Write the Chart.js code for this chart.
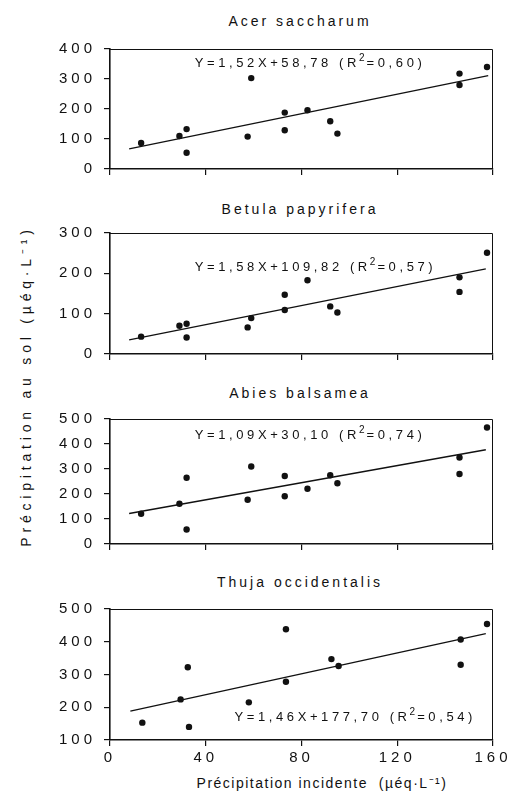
<!DOCTYPE html>
<html>
<head>
<meta charset="utf-8">
<script src="https://cdn.jsdelivr.net/npm/chart.js@4.4.1/dist/chart.umd.min.js"></script>
<style>
  body { margin: 0; background: #fff; }
  #wrap { position: relative; width: 530px; height: 805px; overflow: hidden; font-family: "Liberation Sans", Arial, sans-serif; color: #111; }
  #wrap canvas { position: absolute; left: 0; }
  .panel-title { position: absolute; left: 200px; width: 200px; text-align: center; font-size: 14px; line-height: 14px; letter-spacing: 3px; white-space: nowrap; }
  #yTitle { position: absolute; left: 26px; top: 386px; transform: translate(-50%, -50%) rotate(-90deg); font-size: 14px; line-height: 14px; letter-spacing: 4.8px; white-space: nowrap; }
  #xTitle { position: absolute; left: 172px; width: 300px; top: 776px; text-align: center; font-size: 14px; line-height: 14px; letter-spacing: 1.5px; white-space: nowrap; }
</style>
</head>
<body>
<div id="wrap">
  <div id="yTitle">Précipitation au sol (µéq·L⁻¹)</div>
  <div id="xTitle">Précipitation incidente&nbsp; (µéq·L⁻¹)</div>
</div>
<script>
// values
const species = ["Acer saccharum", "Betula papyrifera", "Abies balsamea", "Thuja occidentalis"];
const equations = [
  "Y=1,52X+58,78 (R²=0,60)",
  "Y=1,58X+109,82 (R²=0,57)",
  "Y=1,09X+30,10 (R²=0,74)",
  "Y=1,46X+177,70 (R²=0,54)"
];
const xTicks = [0, 40, 80, 120, 160];

const precipX = [13, 29, 32, 32, 57.5, 59, 73, 73, 82.5, 92, 95, 146, 146, 157.5];
const acerY = [87, 110, 133, 54, 108, 303, 188, 129, 196, 159, 118, 318, 280, 340];
const betulaY = [43, 70, 75, 41, 66, 89, 147, 109, 183, 118, 103, 190, 154, 251];
const abiesY = [121, 161, 265, 58, 177, 310, 272, 191, 221, 275, 243, 346, 280, 466];
const thujaX = [13.5, 29.5, 32.5, 33, 58, 73.5, 73.5, 92.5, 95.5, 146.5, 146.5, 157.5];
const thujaY = [153, 224, 322, 140, 215, 438, 278, 347, 326, 407, 330, 454];

// regression lines as drawn (end points)
const acerFitX = [8, 158];
const acerFitY = [67, 311];
const betulaFitX = [8, 157];
const betulaFitY = [35, 211];
const abiesFitX = [8, 157];
const abiesFitY = [122, 377];
const thujaFitX = [8.5, 157];
const thujaFitY = [188, 425];

const yTicksAcer = [0, 100, 200, 300, 400];
const yTicksBetula = [0, 100, 200, 300];
const yTicksAbies = [0, 100, 200, 300, 400, 500];
const yTicksThuja = [100, 200, 300, 400, 500];

const INK = '#111';
const FONT = '"Liberation Sans", Arial, sans-serif';

// panel placement on the page (plot area top/bottom in px) + where the equation sits (data coords)
const panels = [
  { x: precipX, y: acerY, fx: acerFitX, fy: acerFitY, yTicks: yTicksAcer, top: 44, bottom: 176, titleTop: 14, eqAt: [35.4, 352], showX: false },
  { x: precipX, y: betulaY, fx: betulaFitX, fy: betulaFitY, yTicks: yTicksBetula, top: 228, bottom: 361, titleTop: 202, eqAt: [35.4, 215], showX: false },
  { x: precipX, y: abiesY, fx: abiesFitX, fy: abiesFitY, yTicks: yTicksAbies, top: 414, bottom: 551, titleTop: 386, eqAt: [35.4, 434], showX: false },
  { x: thujaX, y: thujaY, fx: thujaFitX, fy: thujaFitY, yTicks: yTicksThuja, top: 604, bottom: 740, titleTop: 575, eqAt: [52, 168], showX: true }
];

const zip = (xs, ys) => xs.map((v, i) => ({ x: v, y: ys[i] }));

// canvas letter spacing, the original lettering is widely tracked
const spacing = {
  id: 'spacing',
  beforeLayout(chart) { chart.ctx.letterSpacing = '4px'; },
  beforeDraw(chart) { chart.ctx.letterSpacing = '4px'; }
};

// top + right edges of the frame
const frame = {
  id: 'frame',
  afterDraw(chart) {
    const { ctx, chartArea: a } = chart;
    ctx.save();
    ctx.strokeStyle = INK;
    ctx.lineWidth = 1;
    ctx.beginPath();
    ctx.moveTo(a.left, a.top + 0.5);
    ctx.lineTo(a.right - 0.5, a.top + 0.5);
    ctx.lineTo(a.right - 0.5, a.bottom);
    ctx.stroke();
    ctx.restore();
  }
};

// regression equation, with the R² exponent drawn as a real superscript
const eqLabel = {
  id: 'eqLabel',
  afterDatasetsDraw(chart, args, opts) {
    const { ctx, scales } = chart;
    const [before, after] = opts.text.split('²');
    let x = scales.x.getPixelForValue(opts.at[0]);
    const y = scales.y.getPixelForValue(opts.at[1]);
    ctx.save();
    ctx.letterSpacing = '3.6px';
    ctx.fillStyle = INK;
    ctx.textAlign = 'left';
    ctx.textBaseline = 'middle';
    ctx.font = `13px ${FONT}`;
    ctx.fillText(before, x, y);
    x += ctx.measureText(before).width;
    ctx.font = `10px ${FONT}`;
    ctx.letterSpacing = '1px';
    ctx.fillText('2', x - 1, y - 5);
    x += ctx.measureText('2').width;
    ctx.font = `13px ${FONT}`;
    ctx.letterSpacing = '3.6px';
    ctx.fillText(after, x, y);
    ctx.restore();
  }
};

const wrap = document.getElementById('wrap');

panels.forEach((p, i) => {
  const title = document.createElement('div');
  title.className = 'panel-title';
  title.style.top = p.titleTop + 'px';
  title.textContent = species[i];
  wrap.appendChild(title);

  const padTop = 12;
  const xSpace = p.showX ? 30 : 10;
  const canvas = document.createElement('canvas');
  canvas.width = 530;
  canvas.height = padTop + (p.bottom - p.top) + xSpace;
  canvas.style.top = (p.top - padTop) + 'px';
  wrap.appendChild(canvas);

  new Chart(canvas, {
    type: 'scatter',
    data: {
      datasets: [
        {
          data: zip(p.x, p.y),
          backgroundColor: INK,
          borderWidth: 0,
          pointRadius: 3.2,
          pointHoverRadius: 3.2
        },
        {
          data: zip(p.fx, p.fy),
          showLine: true,
          borderColor: INK,
          borderWidth: 1.3,
          pointRadius: 0,
          fill: false
        }
      ]
    },
    options: {
      responsive: false,
      animation: false,
      clip: false,
      layout: { padding: { top: padTop, left: 0, right: 37, bottom: 0 } },
      plugins: {
        legend: { display: false },
        tooltip: { enabled: false },
        eqLabel: { text: equations[i], at: p.eqAt }
      },
      scales: {
        x: {
          type: 'linear',
          min: xTicks[0],
          max: xTicks[xTicks.length - 1],
          afterBuildTicks: s => { s.ticks = xTicks.map(v => ({ value: v })); },
          afterFit: s => { s.height = xSpace; },
          border: { display: true, color: INK, width: 1.6 },
          grid: { drawOnChartArea: false, drawTicks: true, tickLength: 6, color: INK, lineWidth: 1.2 },
          ticks: { display: p.showX, color: INK, padding: 3, maxRotation: 0, font: { size: 15, family: FONT } }
        },
        y: {
          type: 'linear',
          min: p.yTicks[0],
          max: p.yTicks[p.yTicks.length - 1],
          afterBuildTicks: s => { s.ticks = p.yTicks.map(v => ({ value: v })); },
          afterFit: s => { s.width = 110; },
          border: { display: true, color: INK, width: 1.6 },
          grid: { drawOnChartArea: false, drawTicks: true, tickLength: 6, color: INK, lineWidth: 1.2 },
          ticks: { color: INK, padding: 8, font: { size: 15, family: FONT } }
        }
      }
    },
    plugins: [spacing, frame, eqLabel]
  });
});
</script>
</body>
</html>
